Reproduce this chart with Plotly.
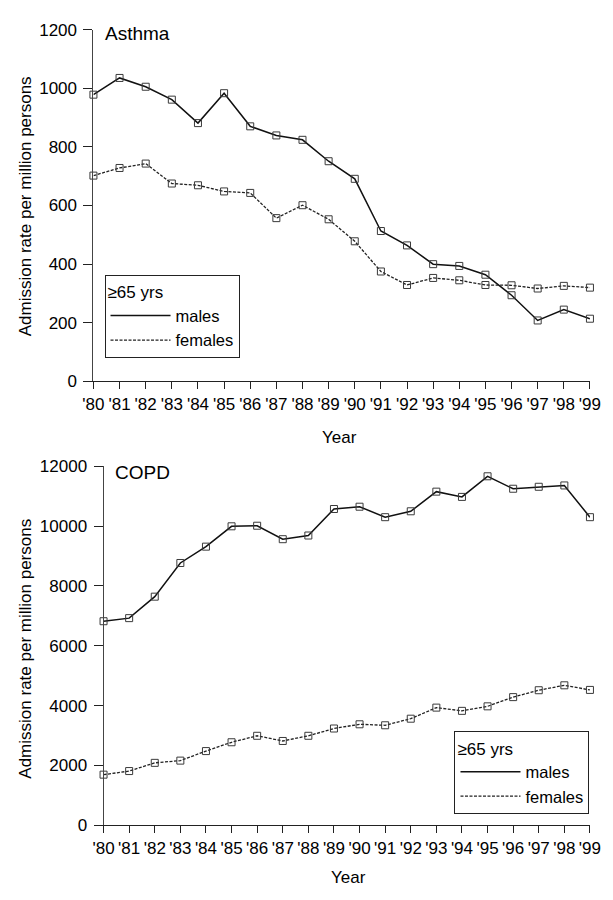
import plotly.graph_objects as go

# Years 1980-1999 and their short tick labels
years = list(range(1980, 2000))
year_labels = ["'" + str(y)[2:] for y in years]

# Asthma admissions per million persons, aged 65+
asthma_males = [978, 1035, 1005, 961, 881, 983, 870, 839, 824, 751,
                691, 513, 464, 400, 394, 364, 294, 208, 245, 214]
asthma_females = [702, 728, 743, 675, 669, 648, 643, 557, 601, 553,
                  478, 375, 329, 353, 345, 329, 328, 317, 326, 320]

# COPD admissions per million persons, aged 65+
copd_males = [6820, 6923, 7640, 8765, 9311, 9990, 10010, 9560, 9683, 10568,
              10645, 10295, 10492, 11148, 10973, 11661, 11245, 11311, 11355, 10295]
copd_females = [1695, 1815, 2089, 2164, 2482, 2777, 2993, 2820, 2993, 3236,
                3377, 3344, 3564, 3934, 3826, 3977, 4285, 4515, 4679, 4525]

FONT = "Arial, Liberation Sans, sans-serif"
W, H = 613, 900


def px_x(p):
    return p / W


def px_y(p):
    return 1 - p / H


marker = dict(symbol="square-open", size=7, color="#3a3a3a", line=dict(width=1))
male_line = dict(color="#111111", width=1.5)
female_line = dict(color="#222222", width=1.3, dash="3px,1.5px")

fig = go.Figure()

# Asthma panel
fig.add_trace(go.Scatter(x=years, y=asthma_males, mode="lines+markers",
                         line=male_line, marker=marker, showlegend=False,
                         cliponaxis=False, xaxis="x", yaxis="y"))
fig.add_trace(go.Scatter(x=years, y=asthma_females, mode="lines+markers",
                         line=female_line, marker=marker, showlegend=False,
                         cliponaxis=False, xaxis="x", yaxis="y"))
# legend entries for the Asthma panel
fig.add_trace(go.Scatter(x=[None], y=[None], mode="lines", name="males",
                         line=male_line, legend="legend", xaxis="x", yaxis="y"))
fig.add_trace(go.Scatter(x=[None], y=[None], mode="lines", name="females",
                         line=female_line, legend="legend", xaxis="x", yaxis="y"))

# COPD panel
fig.add_trace(go.Scatter(x=years, y=copd_males, mode="lines+markers",
                         line=male_line, marker=marker, showlegend=False,
                         cliponaxis=False, xaxis="x2", yaxis="y2"))
fig.add_trace(go.Scatter(x=years, y=copd_females, mode="lines+markers",
                         line=female_line, marker=marker, showlegend=False,
                         cliponaxis=False, xaxis="x2", yaxis="y2"))
fig.add_trace(go.Scatter(x=[None], y=[None], mode="lines", name="males",
                         line=male_line, legend="legend2", xaxis="x2", yaxis="y2"))
fig.add_trace(go.Scatter(x=[None], y=[None], mode="lines", name="females",
                         line=female_line, legend="legend2", xaxis="x2", yaxis="y2"))

tick_font = dict(family=FONT, size=17, color="#000000")

xaxis_common = dict(
    range=[1980, 1999], tickmode="array", tickvals=years, ticktext=year_labels,
    showline=True, linecolor="#222222", linewidth=1, ticks="outside", ticklen=7,
    tickcolor="#222222", tickwidth=1, showgrid=False, zeroline=False,
    tickfont=tick_font, tickangle=0,
)
yaxis_common = dict(
    showline=True, linecolor="#444444", linewidth=1, ticks="outside", ticklen=9,
    tickcolor="#222222", tickwidth=1, showgrid=False, zeroline=False,
    tickfont=tick_font, ticklabelstandoff=3, tickformat="d",
)

legend_common = dict(
    title=dict(text="≥65 yrs", font=dict(family=FONT, size=17, color="#000")),
    font=dict(family=FONT, size=16.5, color="#000"),
    bordercolor="#222222", borderwidth=1, bgcolor="rgba(255,255,255,0)",
    itemwidth=60, tracegroupgap=0, xanchor="left", yanchor="top",
)

fig.update_layout(
    width=W, height=H,
    margin=dict(l=0, r=0, t=0, b=0),
    paper_bgcolor="white", plot_bgcolor="white",
    font=dict(family=FONT, size=17, color="#000"),
    xaxis=dict(domain=[px_x(85.5), px_x(600.5)], anchor="y", **xaxis_common),
    yaxis=dict(domain=[px_y(380.5), px_y(21)], anchor="x", range=[0, 1200],
               tickvals=[0, 200, 400, 600, 800, 1000, 1200], **yaxis_common),
    xaxis2=dict(domain=[px_x(96), px_x(600.5)], anchor="y2", **xaxis_common),
    yaxis2=dict(domain=[px_y(834), px_y(467)], anchor="x2", range=[0, 12000],
                tickvals=[0, 2000, 4000, 6000, 8000, 10000, 12000], **yaxis_common),
    legend=dict(x=px_x(97), y=px_y(272), **legend_common),
    legend2=dict(x=px_x(460), y=px_y(738), **legend_common),
    annotations=[
        dict(text="Asthma", x=px_x(95), y=px_y(25), xref="paper", yref="paper",
             xanchor="left", yanchor="middle", showarrow=False,
             font=dict(family=FONT, size=19, color="#000")),
        dict(text="COPD", x=px_x(106), y=px_y(474), xref="paper", yref="paper",
             xanchor="left", yanchor="middle", showarrow=False,
             font=dict(family=FONT, size=19, color="#000")),
        dict(text="Year", x=px_x(341), y=px_y(438), xref="paper", yref="paper",
             xanchor="center", yanchor="middle", showarrow=False,
             font=dict(family=FONT, size=17, color="#000")),
        dict(text="Year", x=px_x(350), y=px_y(887), xref="paper", yref="paper",
             xanchor="center", yanchor="middle", showarrow=False,
             font=dict(family=FONT, size=17, color="#000")),
        dict(text="Admission rate per million persons", x=px_x(15), y=px_y(201),
             xref="paper", yref="paper", xanchor="center", yanchor="middle",
             textangle=-90, showarrow=False,
             font=dict(family=FONT, size=17, color="#000")),
        dict(text="Admission rate per million persons", x=px_x(15), y=px_y(653),
             xref="paper", yref="paper", xanchor="center", yanchor="middle",
             textangle=-90, showarrow=False,
             font=dict(family=FONT, size=17, color="#000")),
    ],
)

fig.write_html("out.html")
